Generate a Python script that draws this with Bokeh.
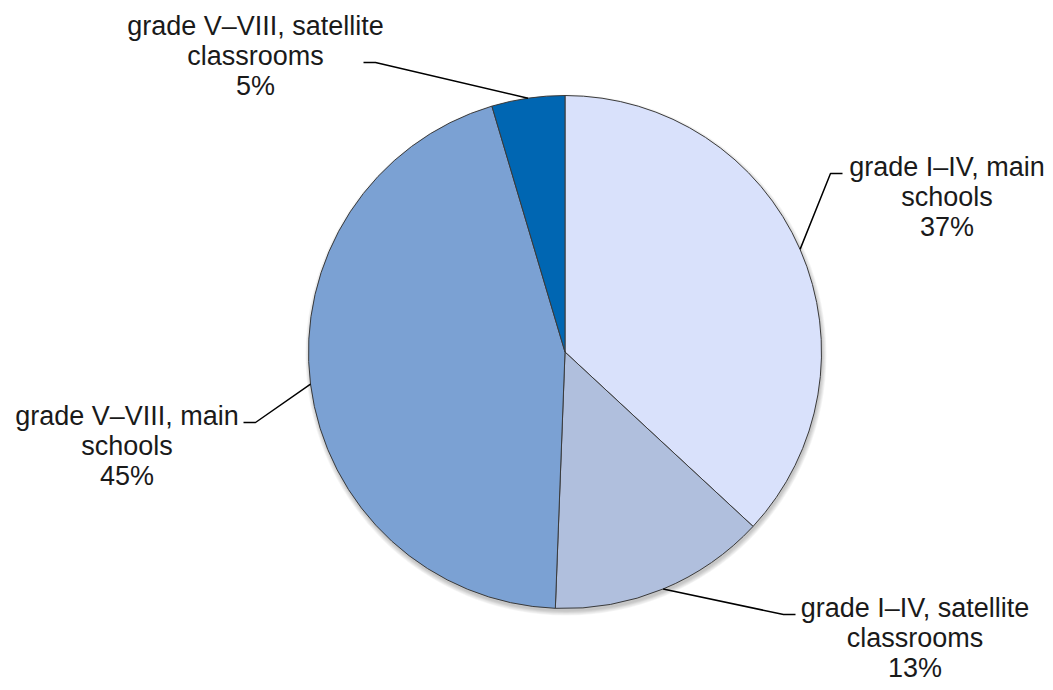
import math
from bokeh.plotting import figure
from bokeh.models import Range1d, ColumnDataSource
from bokeh.core.properties import value
from bokeh.embed import file_html
from bokeh.resources import INLINE

# ---- data ----
categories = ["grade I\u2013IV, main schools",
              "grade I\u2013IV, satellite classrooms",
              "grade V\u2013VIII, main schools",
              "grade V\u2013VIII, satellite classrooms"]
shares = [36.9, 13.7, 44.8, 4.6]
label_lines = [["grade I\u2013IV, main", "schools", "37%"],
               ["grade I\u2013IV, satellite", "classrooms", "13%"],
               ["grade V\u2013VIII, main", "schools", "45%"],
               ["grade V\u2013VIII, satellite", "classrooms", "5%"]]
colors = ["#D9E1FB", "#B0BFDD", "#7BA1D3", "#0066B2"]

# ---- layout (image pixel coords; y measured from top) ----
W, H = 1053, 690
CX, CY, R = 564.5, 351.5, 256.5
# elbow point and label centre (first line) per slice
elbows = [((830, 173), (842, 173)),
          ((783, 614), (795, 614)),
          ((255, 422), (243, 422)),
          ((375, 62), (363, 62))]
label_pos = [(946.5, 166), (914.5, 607), (126.5, 415), (255, 25)]
LINE_H = 30


def Y(v):
    return H - v


p = figure(width=W, height=H, output_backend="svg", toolbar_location=None,
           x_range=Range1d(0, W), y_range=Range1d(0, H),
           min_border=0, outline_line_color=None)
p.axis.visible = False
p.grid.visible = False
p.background_fill_color = "white"
p.border_fill_color = "white"

# soft shadow
for k in range(6):
    p.circle(x=[CX + 1], y=[Y(CY + 3)], radius=R + 4 - k * 0.8,
             fill_color="black", fill_alpha=0.04, line_color=None)

# wedges: start at 12 o'clock, clockwise
total = sum(shares)
starts, ends, mids = [], [], []
cum = 0.0
for s in shares:
    a_end = 90 - cum / total * 360
    cum += s
    a_start = 90 - cum / total * 360
    starts.append(math.radians(a_start))
    ends.append(math.radians(a_end))
    mids.append(math.radians((a_start + a_end) / 2))

src = ColumnDataSource(dict(start=starts, end=ends, color=colors, cat=categories,
                            x=[CX] * 4, y=[Y(CY)] * 4))
p.wedge(x="x", y="y", radius=R, start_angle="start", end_angle="end",
        direction="anticlock", fill_color="color", line_color="#3a3a3a",
        line_width=1, source=src)

# leader lines
for i, m in enumerate(mids):
    ax = CX + R * math.cos(m)
    ay = Y(CY) + R * math.sin(m)
    (ex, ey), (hx, hy) = elbows[i]
    p.line(x=[ax, ex, hx], y=[ay, Y(ey), Y(hy)], line_color="black", line_width=1.5)

# labels
for i, lines in enumerate(label_lines):
    lx, ly = label_pos[i]
    xs = [lx] * len(lines)
    ys = [Y(ly + j * LINE_H) for j in range(len(lines))]
    p.text(x=xs, y=ys, text=lines, text_align="center", text_baseline="middle",
           text_font=value("Liberation Sans"), text_font_size="27px",
           text_color="#1a1a1a")

open("out.html", "w").write(file_html(p, INLINE))
